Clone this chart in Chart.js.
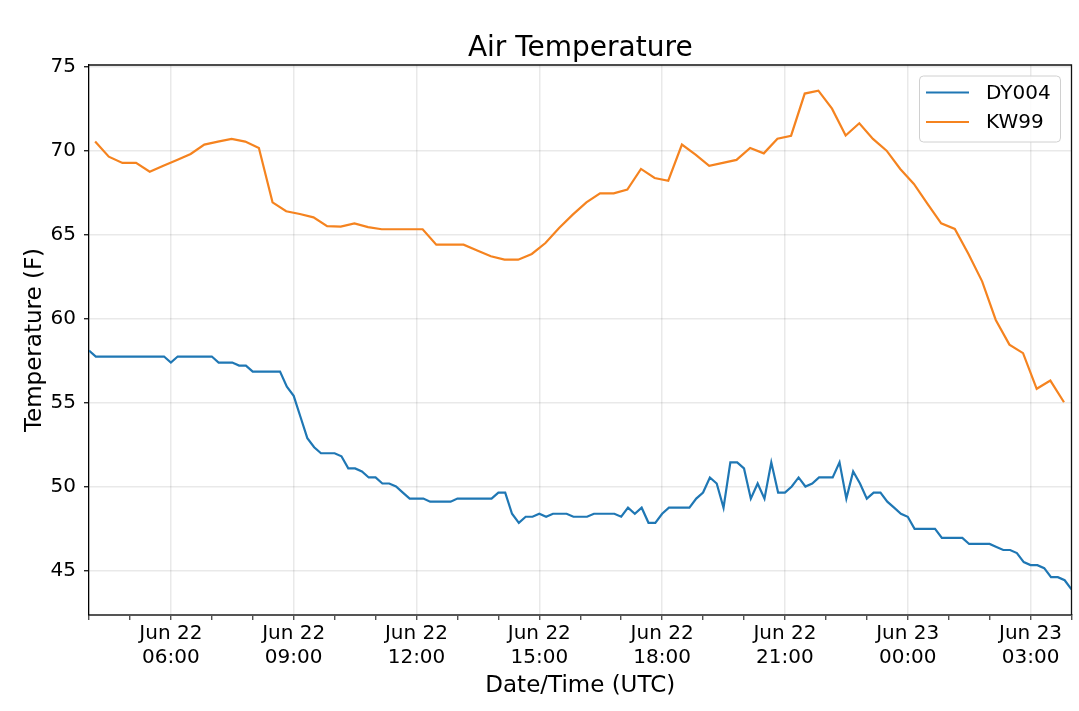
<!DOCTYPE html>
<html>
<head>
<meta charset="utf-8">
<script src="https://cdn.jsdelivr.net/npm/chart.js@4.4.1/dist/chart.umd.min.js"></script>
<style>
  html, body { margin: 0; padding: 0; background: #ffffff; }
  #wrap { width: 1079px; height: 711px; position: relative; }
</style>
</head>
<body>
<div id="wrap"><canvas id="c"></canvas></div>
<script>
// ---------------- data ----------------
const seriesNames = ['DY004', 'KW99'];

// DY004: sampled every 10 minutes from Jun 22 04:00 (hours since Jun 22 00:00)
const dyStartHour = 4;
const dyStepMinutes = 10;
const dyValues = [
  58.1, 57.74, 57.74, 57.74, 57.74, 57.74, 57.74, 57.74, 57.74, 57.74, 57.74, 57.74,
  57.38, 57.74, 57.74, 57.74, 57.74, 57.74, 57.74, 57.38, 57.38, 57.38, 57.2, 57.2,
  56.84, 56.84, 56.84, 56.84, 56.84, 55.94, 55.4, 54.14, 52.88, 52.34, 51.98, 51.98,
  51.98, 51.8, 51.08, 51.08, 50.9, 50.54, 50.54, 50.18, 50.18, 50.0, 49.64, 49.28,
  49.28, 49.28, 49.1, 49.1, 49.1, 49.1, 49.28, 49.28, 49.28, 49.28, 49.28, 49.28,
  49.64, 49.64, 48.38, 47.84, 48.2, 48.2, 48.38, 48.2, 48.38, 48.38, 48.38, 48.2,
  48.2, 48.2, 48.38, 48.38, 48.38, 48.38, 48.2, 48.74, 48.38, 48.74, 47.84, 47.84,
  48.38, 48.74, 48.74, 48.74, 48.74, 49.28, 49.64, 50.54, 50.18, 48.74, 51.44, 51.44,
  51.08, 49.28, 50.18, 49.28, 51.44, 49.64, 49.64, 50.0, 50.54, 50.0, 50.18, 50.54,
  50.54, 50.54, 51.44, 49.28, 50.9, 50.18, 49.28, 49.64, 49.64, 49.1, 48.74, 48.38,
  48.2, 47.48, 47.48, 47.48, 47.48, 46.94, 46.94, 46.94, 46.94, 46.58, 46.58, 46.58,
  46.58, 46.4, 46.22, 46.22, 46.04, 45.5, 45.32, 45.32, 45.14, 44.6, 44.6, 44.42,
  43.88
];

// KW99: sampled every 20 minutes from Jun 22 04:09
const kwStartHour = 4 + 9 / 60;
const kwStepMinutes = 20;
const kwValues = [
  70.55, 69.64, 69.27, 69.27, 68.75, 69.1, 69.45, 69.8, 70.36,
  70.54, 70.7, 70.54, 70.16, 66.92, 66.39, 66.23, 66.03, 65.5,
  65.48, 65.67, 65.45, 65.32, 65.32, 65.32, 65.32, 64.4, 64.4,
  64.4, 64.05, 63.71, 63.51, 63.51, 63.85, 64.5, 65.4, 66.19,
  66.92, 67.46, 67.46, 67.68, 68.91, 68.37, 68.21, 70.36, 69.76,
  69.09, 69.27, 69.45, 70.16, 69.84, 70.71, 70.89, 73.4, 73.57,
  72.5, 70.9, 71.63, 70.7, 70.0, 68.91, 68.02, 66.83, 65.67,
  65.34, 63.85, 62.22, 59.92, 58.45, 57.94, 55.82, 56.31, 55.02
];

const seriesColors = ['#1f77b4', '#f5831f'];

const yTicks = [45, 50, 55, 60, 65, 70, 75];
const xTickHours = [6, 9, 12, 15, 18, 21, 24, 27];
const xTickLabels = [
  ['Jun 22', '06:00'], ['Jun 22', '09:00'], ['Jun 22', '12:00'], ['Jun 22', '15:00'],
  ['Jun 22', '18:00'], ['Jun 22', '21:00'], ['Jun 23', '00:00'], ['Jun 23', '03:00']
];
const xMinorHours = [4, 5, 7, 8, 10, 11, 13, 14, 16, 17, 19, 20, 22, 23, 25, 26, 28];

const titleText = 'Air Temperature';
const xTitle = 'Date/Time (UTC)';
const yTitle = 'Temperature (F)';

// ---------------- build ----------------
const toPoints = (start, stepMin, vals) =>
  vals.map((v, i) => ({ x: start + (i * stepMin) / 60, y: v }));

const FONT = "'DejaVu Sans', 'Liberation Sans', sans-serif";
const gridColor = 'rgba(0,0,0,0.085)';
Chart.defaults.color = '#000';

const framePlugin = {
  id: 'frame',
  afterDatasetsDraw(chart) {
    const { ctx, chartArea: a } = chart;
    ctx.save();
    ctx.strokeStyle = '#111';
    ctx.lineWidth = 1.3;
    ctx.beginPath();
    ctx.moveTo(a.left, a.top);
    ctx.lineTo(a.right, a.top);
    ctx.lineTo(a.right, a.bottom);
    ctx.stroke();
    ctx.restore();
  }
};

const legendPlugin = {
  id: 'boxLegend',
  afterDraw(chart) {
    const { ctx, chartArea: a } = chart;
    const w = 141, h = 66;
    const x = a.right - 11 - w, y = a.top + 11;
    const r = 4;
    ctx.save();
    ctx.beginPath();
    ctx.moveTo(x + r, y);
    ctx.lineTo(x + w - r, y);
    ctx.quadraticCurveTo(x + w, y, x + w, y + r);
    ctx.lineTo(x + w, y + h - r);
    ctx.quadraticCurveTo(x + w, y + h, x + w - r, y + h);
    ctx.lineTo(x + r, y + h);
    ctx.quadraticCurveTo(x, y + h, x, y + h - r);
    ctx.lineTo(x, y + r);
    ctx.quadraticCurveTo(x, y, x + r, y);
    ctx.closePath();
    ctx.fillStyle = 'rgba(255,255,255,0.85)';
    ctx.fill();
    ctx.strokeStyle = '#d0d0d0';
    ctx.lineWidth = 1;
    ctx.stroke();
    ctx.font = '20px ' + FONT;
    ctx.textBaseline = 'middle';
    ctx.textAlign = 'left';
    chart.data.datasets.forEach((ds, i) => {
      const cy = y + 16.5 + i * 29.4;
      ctx.strokeStyle = ds.borderColor;
      ctx.lineWidth = 2;
      ctx.beginPath();
      ctx.moveTo(x + 6.5, cy);
      ctx.lineTo(x + 49.5, cy);
      ctx.stroke();
      ctx.fillStyle = '#000';
      ctx.fillText(ds.label, x + 66.5, cy + 1);
    });
    ctx.restore();
  }
};

const cfg = {
  type: 'line',
  data: {
    datasets: [
      {
        label: seriesNames[0],
        data: toPoints(dyStartHour, dyStepMinutes, dyValues),
        borderColor: seriesColors[0], backgroundColor: seriesColors[0],
        borderWidth: 2.2, pointRadius: 0, tension: 0, fill: false
      },
      {
        label: seriesNames[1],
        data: toPoints(kwStartHour, kwStepMinutes, kwValues),
        borderColor: seriesColors[1], backgroundColor: seriesColors[1],
        borderWidth: 2.2, pointRadius: 0, tension: 0, fill: false
      }
    ]
  },
  options: {
    responsive: true,
    maintainAspectRatio: false,
    animation: false,
    events: [],
    layout: { padding: { top: 0, right: 7.5, bottom: 0, left: 0 } },
    plugins: {
      legend: { display: false },
      tooltip: { enabled: false },
      title: {
        display: true, text: titleText, color: '#000', fullSize: false,
        font: { family: FONT, size: 28, weight: 'normal', lineHeight: 1.0 },
        padding: { top: 35, bottom: 2 }
      }
    },
    scales: {
      x: {
        type: 'linear', min: 4, max: 28,
        afterBuildTicks: (s) => {
          s.ticks = xMinorHours.concat(xTickHours).sort((a, b) => a - b).map(v => ({ value: v }));
        },
        afterFit: (s) => { s.height = 96; },
        ticks: {
          autoSkip: false, maxRotation: 0, minRotation: 0, color: '#000',
          font: { family: FONT, size: 20 }, padding: 2,
          callback: (v) => { const i = xTickHours.indexOf(v); return i >= 0 ? xTickLabels[i] : ''; }
        },
        grid: {
          color: (c) => (c.tick && xTickHours.includes(c.tick.value)) ? gridColor : 'rgba(0,0,0,0)',
          lineWidth: 1.5, tickColor: '#333', tickLength: 5, tickWidth: 1.2
        },
        border: { color: '#555', width: 2 },
        title: {
          display: true, text: xTitle, color: '#000',
          font: { family: FONT, size: 23 }, padding: { top: 0, bottom: 11.5 }
        }
      },
      y: {
        min: 42.35, max: 75.1,
        afterBuildTicks: (s) => { s.ticks = yTicks.map(v => ({ value: v })); },
        afterFit: (s) => { s.width = 89; },
        ticks: { color: '#000', font: { family: FONT, size: 20 }, padding: 8 },
        grid: { color: gridColor, lineWidth: 1.5, tickColor: '#000', tickLength: 5, tickWidth: 1.2 },
        border: { color: '#000', width: 1.3 },
        title: {
          display: true, text: yTitle, color: '#000',
          font: { family: FONT, size: 23 }, padding: { top: 21, bottom: 0 }
        }
      }
    }
  },
  plugins: [framePlugin, legendPlugin]
};

new Chart(document.getElementById('c'), cfg);
</script>
</body>
</html>
